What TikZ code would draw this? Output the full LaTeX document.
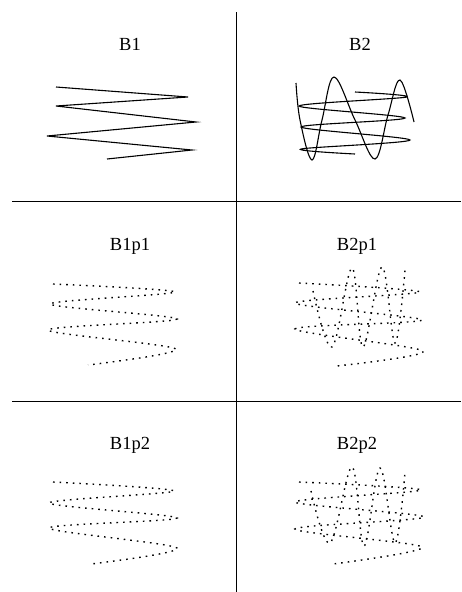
\documentclass[tikz,border=0pt]{standalone}
\usepackage{fontspec}
\setmainfont{Liberation Serif}
\usepackage{tikz}
\usetikzlibrary{positioning}
\definecolor{pathcol}{RGB}{0,0,0}
\tikzset{
  lbl/.style={inner sep=0pt,font=\fontsize{18.5}{20}\selectfont},
  rule/.style={line width=1pt,draw=black},
  zig/.style={pathcol,line width=1.1pt,line join=miter},
  wave/.style={pathcol,line width=1.1pt},
  dotz/.style={pathcol,line width=1.4pt,dash pattern=on 1.6pt off 5pt}
}
\begin{document}
\begin{tikzpicture}[x=1pt,y=-1pt]
  \useasboundingbox (0,0) rectangle (461,592);
  \coordinate (vt) at (236,12);\coordinate (vb) at (236,592);
  \coordinate (h1l) at (12,201);\coordinate (h1r) at (461,201);
  \coordinate (h2l) at (12,401);\coordinate (h2r) at (461,401);
  \draw[rule] (vt)--(vb);
  \draw[rule] (h1l)--(h1r);
  \draw[rule] (h2l)--(h2r);
  \node[lbl] (b1) at (130,44) {B1};\node[lbl] (b2) at (360,44) {B2};
  \node[lbl] (b1p1) at (130,246) {B1p1};\node[lbl] (b2p1) at (357,246) {B2p1};
  \node[lbl] (b1p2) at (130,445) {B1p2};\node[lbl] (b2p2) at (357,445) {B2p2};
  \draw[zig] (56,87)--(188,97)--(56,106)--(196,122)--(47,136)--(192,150)--(107,159);
  \draw[wave] plot[smooth,tension=0.5] coordinates {(355,92) (407,97) (299,106) (405,118) (301,127) (410,140) (301,149) (355,154)};
  \draw[wave] plot[smooth,tension=0.6] coordinates {(296,83) (300,120) (312,160) (322,120) (334,77) (355,120) (375,159) (388,115) (400,80) (414,122)};
  \draw[dotz] plot[smooth,tension=0.5] coordinates {(53,284) (175,292) (50,304) (177,319) (48,330) (176,349) (88,365)};
  \draw[dotz] plot[smooth,tension=0.5] coordinates {(299,283) (420,292) (295,303) (422,320) (295,329) (423,351) (337,366)};
  \draw[dotz] plot[smooth,tension=0.6] coordinates {(313,291) (332,347) (352,268) (363,347) (382,267) (395,343) (405,270)};
  \draw[dotz] plot[smooth,tension=0.5] coordinates {(53,482) (174,491) (49,503) (177,518) (49,528) (177,548) (91,564)};
  \draw[dotz] plot[smooth,tension=0.5] coordinates {(299,482) (421,490) (295,502) (424,517) (295,529) (422,547) (333,564)};
  \draw[dotz] plot[smooth,tension=0.6] coordinates {(311,491) (330,543) (352,467) (364,546) (380,468) (395,543) (405,472)};
\end{tikzpicture}
\end{document}
